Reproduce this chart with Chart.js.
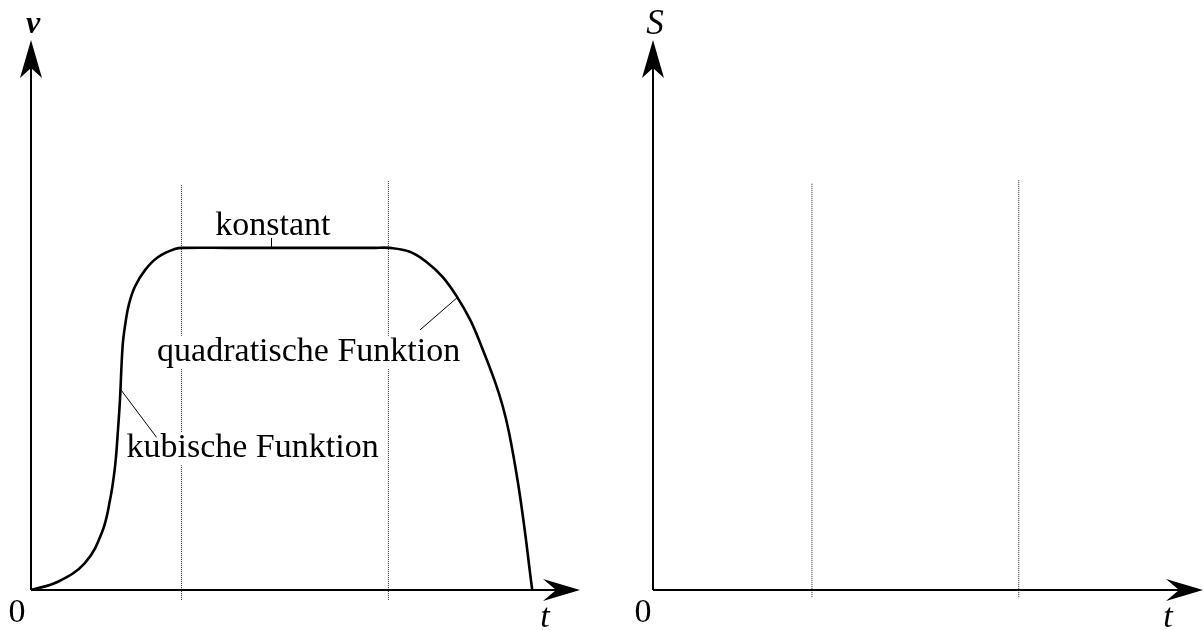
<!DOCTYPE html>
<html>
<head>
<meta charset="utf-8">
<script src="https://cdn.jsdelivr.net/npm/chart.js@4.4.1/dist/chart.umd.min.js"></script>
<style>
  html, body { margin: 0; padding: 0; background: #fff; }
  #wrap { display: flex; width: 1204px; height: 630px; }
  canvas { display: block; }
</style>
</head>
<body>
<div id="wrap">
  <canvas id="vChart" width="602" height="630"></canvas>
  <canvas id="sChart" width="602" height="630"></canvas>
</div>
<script>
// Velocity profile v(t): cubic start-up, constant phase, quadratic run-down
const tVel = [0, 0.49, 0.98, 1.29, 1.44, 1.53, 1.58, 1.62, 1.67, 1.72, 1.78, 1.89, 2.08, 2.31, 2.62, 2.80,
              3.6, 4.5, 5.4, 6.23, 6.54, 6.90, 7.21, 7.50, 7.76, 8.00, 8.21, 8.44, 8.59, 8.71, 8.87, 9.00, 9.09, 9.13];
const vVel = [0, 0.15, 0.49, 1.04, 1.64, 2.24, 2.85, 3.45, 4.45, 4.85, 5.18, 5.51, 5.82, 6.05, 6.20, 6.22,
              6.22, 6.22, 6.22, 6.22, 6.22, 6.15, 5.96, 5.69, 5.33, 4.91, 4.42, 3.82, 3.35, 2.85, 1.95, 1.04, 0.31, 0];

// Phase boundaries (vertical dotted guides): t position, top and bottom v
const guideTLeft = [2.74, 6.51];
const guideTopLeft = [7.36, 7.44];
const guideTRight = [2.89, 6.65];
const guideTopRight = [7.40, 7.45];
const guideBottomLeft = -0.18;
const guideBottomRight = -0.13;

// Labels on the velocity curve with the point each one refers to
const phaseNames = ['konstant', 'quadratische Funktion', 'kubische Funktion'];
const phaseAnchorT = [4.37, 7.78, 1.63];
const phaseAnchorV = [6.22, 5.33, 3.65];

// Axis ranges and axis labels
const tMax = 10;
const yMax = 10;
const axisNames = { left: ['v', 't', '0'], right: ['S', 't', '0'] };

const SERIF = '"Liberation Serif", "Times New Roman", serif';

function guideDatasets(ts, tops, bottom) {
  return ts.map((t, i) => ({
    data: [{ x: t, y: bottom }, { x: t, y: tops[i] }],
    borderColor: '#222',
    borderWidth: 1,
    borderDash: [1, 1],
    pointRadius: 0,
    clip: false,
    order: 2
  }));
}

function arrowHead(ctx, tipX, tipY, dir) {
  // stealth-style arrowhead: dir 'up' or 'right'
  ctx.beginPath();
  if (dir === 'up') {
    ctx.moveTo(tipX, tipY);
    ctx.lineTo(tipX + 11, tipY + 38);
    ctx.lineTo(tipX, tipY + 28);
    ctx.lineTo(tipX - 11, tipY + 38);
  } else {
    ctx.moveTo(tipX, tipY);
    ctx.lineTo(tipX - 37, tipY - 11);
    ctx.lineTo(tipX - 24, tipY);
    ctx.lineTo(tipX - 37, tipY + 11);
  }
  ctx.closePath();
  ctx.fillStyle = '#000';
  ctx.fill();
}

function axesPlugin(names, opts) {
  return {
    id: 'arrowAxes',
    afterDatasetsDraw(chart) {
      const ctx = chart.ctx;
      const xs = chart.scales.x, ys = chart.scales.y;
      const x0 = xs.getPixelForValue(0), y0 = ys.getPixelForValue(0);
      const xEnd = xs.getPixelForValue(tMax), yEnd = ys.getPixelForValue(yMax);
      ctx.save();
      ctx.strokeStyle = '#000';
      ctx.lineWidth = 2;
      ctx.beginPath();
      ctx.moveTo(x0, y0);
      ctx.lineTo(x0, yEnd + 20);
      ctx.moveTo(x0, y0);
      ctx.lineTo(xEnd - 20, y0);
      ctx.stroke();
      arrowHead(ctx, x0, yEnd, 'up');
      arrowHead(ctx, xEnd, y0, 'right');

      ctx.fillStyle = '#000';
      ctx.textAlign = 'center';
      ctx.textBaseline = 'alphabetic';
      // vertical axis name
      ctx.font = opts.yFont;
      ctx.fillText(names[0], x0 + opts.yNameDx, yEnd - opts.yNameDy);
      // horizontal axis name
      ctx.font = 'italic 34px ' + SERIF;
      ctx.fillText(names[1], xEnd - 35, y0 + 37);
      // origin
      ctx.font = '34px ' + SERIF;
      ctx.fillText(names[2], x0 + opts.zeroDx, y0 + 32);
      ctx.restore();
    }
  };
}

const phaseLabelPlugin = {
  id: 'phaseLabels',
  afterDatasetsDraw(chart) {
    const ctx = chart.ctx;
    const xs = chart.scales.x, ys = chart.scales.y;
    const a = phaseAnchorT.map((t, i) => ({ x: xs.getPixelForValue(t), y: ys.getPixelForValue(phaseAnchorV[i]) }));
    ctx.save();
    ctx.font = '34px ' + SERIF;
    ctx.textBaseline = 'alphabetic';
    ctx.textAlign = 'left';

    // konstant: centred above the flat part, short tick down to the curve
    const w0 = ctx.measureText(phaseNames[0]).width;
    const k = { x: a[0].x - w0 / 2 + 2, y: a[0].y - 13 };
    // quadratische Funktion: lower left of its curve point
    const q = { x: a[1].x - 301, y: a[1].y + 64 };
    // kubische Funktion: lower right of its curve point
    const c = { x: a[2].x + 6, y: a[2].y + 68 };

    ctx.fillStyle = '#fff';
    [[q, phaseNames[1]], [c, phaseNames[2]]].forEach(([p, s]) => {
      const w = ctx.measureText(s).width;
      ctx.fillRect(p.x - 4, p.y - 25, w + 8, 33);
    });

    ctx.fillStyle = '#000';
    ctx.fillText(phaseNames[0], k.x, k.y);
    ctx.fillText(phaseNames[1], q.x, q.y);
    ctx.fillText(phaseNames[2], c.x, c.y);

    ctx.strokeStyle = '#000';
    ctx.lineWidth = 1;
    ctx.beginPath();
    ctx.moveTo(Math.round(a[0].x) + 0.5, a[0].y - 10);
    ctx.lineTo(Math.round(a[0].x) + 0.5, a[0].y - 1);
    ctx.moveTo(a[1].x - 38, a[1].y + 33);
    ctx.lineTo(a[1].x, a[1].y);
    ctx.moveTo(a[2].x + 36, a[2].y + 48);
    ctx.lineTo(a[2].x, a[2].y);
    ctx.stroke();
    ctx.restore();
  }
};

function baseOptions(padLeft, padRight) {
  return {
    responsive: false,
    animation: false,
    devicePixelRatio: 1,
    layout: { padding: { left: padLeft, right: padRight, top: 40, bottom: 40 } },
    plugins: { legend: { display: false }, tooltip: { enabled: false } },
    scales: {
      x: { type: 'linear', min: 0, max: tMax, display: false },
      y: { type: 'linear', min: 0, max: yMax, display: false }
    }
  };
}

new Chart(document.getElementById('vChart'), {
  type: 'line',
  data: {
    datasets: [
      {
        data: tVel.map((t, i) => ({ x: t, y: vVel[i] })),
        borderColor: '#000',
        borderWidth: 2.6,
        pointRadius: 0,
        tension: 0.4,
        clip: false,
        order: 1
      },
      ...guideDatasets(guideTLeft, guideTopLeft, guideBottomLeft)
    ]
  },
  options: baseOptions(31, 22),
  plugins: [axesPlugin(axisNames.left, { yFont: 'bold italic 32px ' + SERIF, yNameDx: 2, yNameDy: 7, zeroDx: -14 }), phaseLabelPlugin]
});

new Chart(document.getElementById('sChart'), {
  type: 'line',
  data: { datasets: guideDatasets(guideTRight, guideTopRight, guideBottomRight) },
  options: baseOptions(51, 1),
  plugins: [axesPlugin(axisNames.right, { yFont: 'italic 35px ' + SERIF, yNameDx: 2, yNameDy: 6, zeroDx: -10 })]
});
</script>
</body>
</html>
